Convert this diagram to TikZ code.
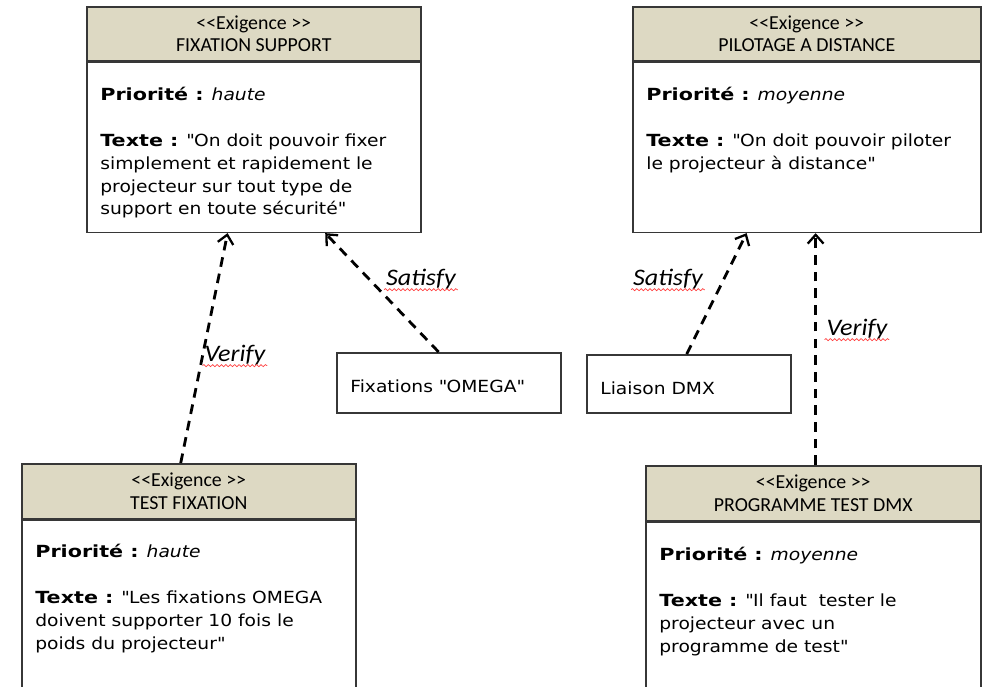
\documentclass[tikz,border=0pt]{standalone}
\usepackage{fontspec}
\setmainfont[FakeStretch=1.12]{DejaVu Sans}
\newfontfamily\strongfont[FakeStretch=1.24]{DejaVu Sans Bold}
\newfontfamily\headfont{Carlito}
\newfontfamily\labelfont[FakeStretch=1.1]{Carlito}
\newcommand{\champ}[1]{{\strongfont #1}}
\usetikzlibrary{arrows.meta,calc,decorations.pathmorphing}
\definecolor{headtan}{RGB}{221,217,195}
\definecolor{boxline}{RGB}{55,55,55}

\begin{document}
\begin{tikzpicture}
  [
  x=0.02cm, y=-0.02cm,
  head/.style={draw=boxline, line width=0.9pt, fill=headtan, anchor=north west, align=center, inner sep=0pt, font=\headfont\fontsize{11.3}{13}\selectfont},
  body/.style={draw=boxline, line width=0.9pt, anchor=north west, inner sep=0pt},
  bodytext/.style={anchor=north west, align=left, inner sep=0pt, font=\fontsize{9.5}{13}\selectfont},
  link/.style={line width=1.6pt, dash pattern=on 5.5pt off 4pt, -{Straight Barb[length=5pt,width=9pt,line width=1.3pt]}},
  linklabel/.style={font=\labelfont\itshape\fontsize{13.5}{15}\selectfont, inner sep=1pt},
  squiggle/.style={red!75, line width=0.4pt, decorate, decoration={snake, amplitude=0.6pt, segment length=2.5pt}}
  ]

  \useasboundingbox (0,0) rectangle (982,686);
  \clip (0,0) rectangle (982,686);

  % exigence FIXATION SUPPORT
  \node[head, minimum width=6.68cm, minimum height=1.08cm] (fixsuphead) at (86,6) {<<Exigence >>\\FIXATION SUPPORT};
  \node[body, minimum width=6.68cm, minimum height=3.4cm] (fixsup) at (fixsuphead.south west) {};
  \node[bodytext] (fixsuptext) at (100,87) {\champ{Priorité :} \textit{haute}\\[13pt]
    \champ{Texte :} \textquotedbl On doit pouvoir fixer\\simplement et rapidement le\\projecteur sur tout type de\\support en toute sécurité\textquotedbl};

  % exigence PILOTAGE A DISTANCE
  \node[head, minimum width=6.96cm, minimum height=1.08cm] (pilothead) at (632,6) {<<Exigence >>\\PILOTAGE A DISTANCE};
  \node[body, minimum width=6.96cm, minimum height=3.4cm] (pilot) at (pilothead.south west) {};
  \node[bodytext] (pilottext) at (646,87) {\champ{Priorité :} \textit{moyenne}\\[13pt]
    \champ{Texte :} \textquotedbl On doit pouvoir piloter\\le projecteur à distance\textquotedbl};

  % exigence TEST FIXATION
  \node[head, minimum width=6.68cm, minimum height=1.1cm] (testfixhead) at (21,463) {<<Exigence >>\\TEST FIXATION};
  \node[body, minimum width=6.68cm, minimum height=4cm] (testfix) at (testfixhead.south west) {};
  \node[bodytext] (testfixtext) at (35,544) {\champ{Priorité :} \textit{haute}\\[13pt]
    \champ{Texte :} \textquotedbl Les fixations OMEGA\\doivent supporter 10 fois le\\poids du projecteur\textquotedbl};

  % exigence PROGRAMME TEST DMX
  \node[head, minimum width=6.7cm, minimum height=1.1cm] (progdmxhead) at (645,465) {<<Exigence >>\\PROGRAMME TEST DMX};
  \node[body, minimum width=6.7cm, minimum height=4cm] (progdmx) at (progdmxhead.south west) {};
  \node[bodytext] (progdmxtext) at (659,547) {\champ{Priorité :} \textit{moyenne}\\[13pt]
    \champ{Texte :} \textquotedbl Il faut \ tester le\\projecteur avec un\\programme de test\textquotedbl};

  % blocs
  \node[body, minimum width=4.48cm, minimum height=1.2cm] (omega) at (336,352) {};
  \node[bodytext, anchor=west] (omegatext) at (350,386) {Fixations \textquotedbl OMEGA\textquotedbl};
  \node[body, minimum width=4.08cm, minimum height=1.16cm] (dmx) at (586,354) {};
  \node[bodytext, anchor=west] (dmxtext) at (600,388) {Liaison DMX};

  % liens
  \coordinate (vstart) at ($(progdmxhead.north west)!0.507!(progdmxhead.north east)$);
  \draw[link] ($(testfixhead.north west)!0.476!(testfixhead.north east)$) -- ($(fixsup.south west)!0.422!(fixsup.south east)$);
  \draw[link] ($(omega.north west)!0.455!(omega.north east)$) -- ($(fixsup.south west)!0.713!(fixsup.south east)$);
  \draw[link] ($(dmx.north west)!0.49!(dmx.north east)$) -- ($(pilot.south west)!0.328!(pilot.south east)$);
  \draw[link] (vstart) -- (vstart |- pilot.south);

  % etiquettes
  \node[linklabel] (verifya) at (235,355) {Verify};
  \node[linklabel] (satisfya) at (421,279) {Satisfy};
  \node[linklabel] (satisfyb) at (668,279) {Satisfy};
  \node[linklabel] (verifyb) at (857,329) {Verify};
  \foreach \lbl in {verifya,satisfya,satisfyb,verifyb}
    \draw[squiggle] ([yshift=-2.5pt]\lbl.base west) -- ([yshift=-2.5pt]\lbl.base east);
\end{tikzpicture}
\end{document}
